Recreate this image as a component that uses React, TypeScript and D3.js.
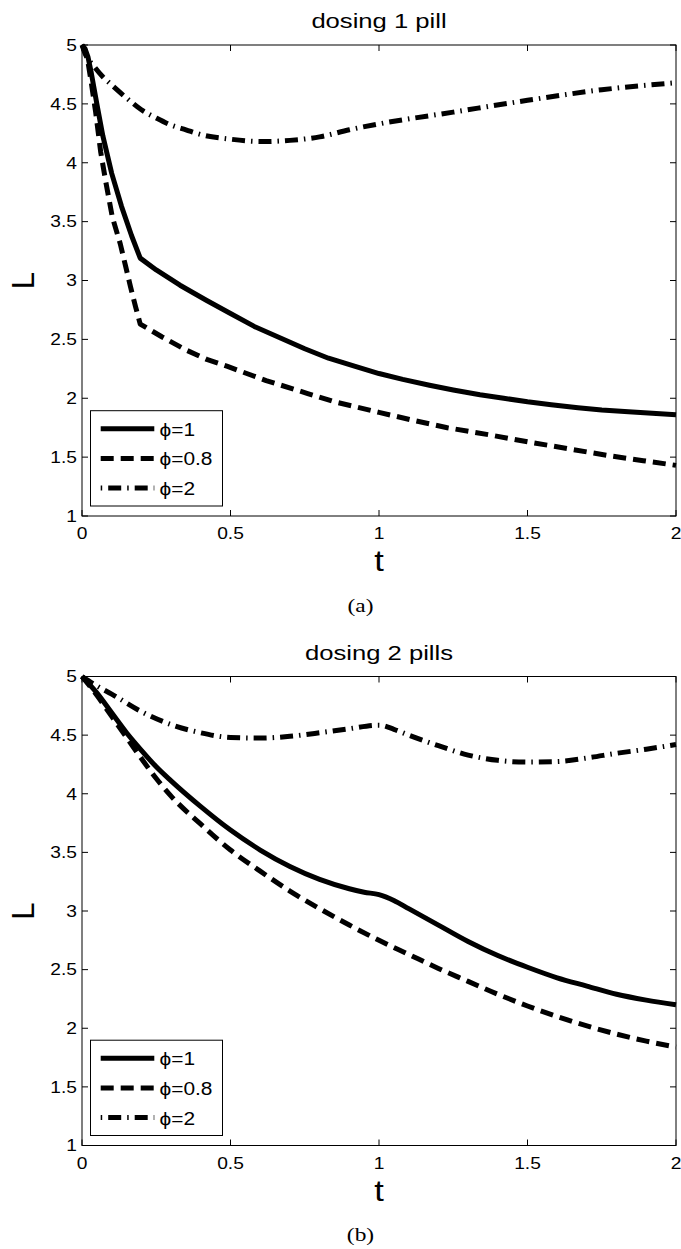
import React from 'react';
import * as d3 from 'd3';

const W = 681;
const H = 1249;

const xTicks = [0, 0.5, 1, 1.5, 2];
const yTicks = [1, 1.5, 2, 2.5, 3, 3.5, 4, 4.5, 5];
const legendLabels = ['ϕ=1', 'ϕ=0.8', 'ϕ=2'];

// (a) dosing 1 pill
const solid1T = [0, 0.01, 0.02, 0.03, 0.04, 0.05, 0.07, 0.1, 0.133, 0.167, 0.196, 0.25, 0.33, 0.42, 0.5, 0.58, 0.67, 0.75, 0.83, 0.92, 1.0, 1.08, 1.17, 1.25, 1.34, 1.42, 1.5, 1.58, 1.67, 1.75, 1.84, 1.92, 2.0];
const solid1L = [5, 4.97, 4.9, 4.78, 4.64, 4.5, 4.23, 3.91, 3.63, 3.38, 3.19, 3.09, 2.96, 2.83, 2.72, 2.61, 2.51, 2.42, 2.34, 2.27, 2.21, 2.16, 2.11, 2.07, 2.03, 2.0, 1.97, 1.945, 1.92, 1.9, 1.885, 1.872, 1.86];
const dashed1T = [0, 0.01, 0.02, 0.03, 0.046, 0.063, 0.08, 0.102, 0.129, 0.146, 0.163, 0.18, 0.196, 0.27, 0.35, 0.42, 0.49, 0.62, 0.76, 0.85, 1.0, 1.12, 1.23, 1.37, 1.5, 1.64, 1.78, 1.89, 2.0];
const dashed1L = [5, 4.96, 4.86, 4.7, 4.43, 4.09, 3.84, 3.54, 3.31, 3.13, 2.95, 2.78, 2.63, 2.52, 2.41, 2.33, 2.27, 2.15, 2.04, 1.97, 1.88, 1.81, 1.75, 1.69, 1.63, 1.57, 1.51, 1.47, 1.43];
const dashdot1T = [0, 0.01, 0.04, 0.07, 0.1, 0.15, 0.2, 0.25, 0.3, 0.35, 0.4, 0.5, 0.6, 0.7, 0.8, 0.9, 1.0, 1.25, 1.5, 1.75, 2.0];
const dashdot1L = [5, 4.93, 4.82, 4.73, 4.66, 4.55, 4.45, 4.38, 4.32, 4.28, 4.24, 4.2, 4.18, 4.19, 4.22, 4.28, 4.33, 4.43, 4.53, 4.62, 4.68];

// (b) dosing 2 pills
const solid2T = [0, 0.05, 0.1, 0.15, 0.2, 0.25, 0.3, 0.4, 0.5, 0.6, 0.7, 0.8, 0.9, 0.95, 1.0, 1.05, 1.1, 1.2, 1.3, 1.4, 1.5, 1.6, 1.7, 1.8, 1.9, 2.0];
const solid2L = [5, 4.86, 4.69, 4.52, 4.37, 4.23, 4.11, 3.89, 3.69, 3.52, 3.38, 3.27, 3.19, 3.16, 3.14, 3.09, 3.02, 2.88, 2.74, 2.62, 2.52, 2.43, 2.36, 2.29, 2.24, 2.2];
const dashed2T = [0, 0.05, 0.1, 0.15, 0.2, 0.25, 0.3, 0.4, 0.5, 0.6, 0.7, 0.8, 0.9, 1.0, 1.1, 1.2, 1.3, 1.4, 1.5, 1.6, 1.7, 1.8, 1.9, 2.0];
const dashed2L = [5, 4.84, 4.66, 4.48, 4.3, 4.13, 3.98, 3.74, 3.52, 3.34, 3.17, 3.02, 2.88, 2.75, 2.63, 2.51, 2.4, 2.29, 2.19, 2.1, 2.02, 1.95, 1.89, 1.84];
const dashdot2T = [0, 0.05, 0.1, 0.2, 0.3, 0.4, 0.5, 0.6, 0.7, 0.8, 0.9, 1.0, 1.05, 1.1, 1.2, 1.3, 1.4, 1.5, 1.6, 1.7, 1.8, 1.9, 2.0];
const dashdot2L = [5, 4.92, 4.85, 4.7, 4.59, 4.52, 4.48, 4.475, 4.49, 4.52, 4.555, 4.585, 4.55, 4.5, 4.41, 4.33, 4.285, 4.27, 4.275, 4.305, 4.345, 4.38, 4.42];

const dashes = [null, '13 7', '13 6 1.5 6'];
const legendOffsets = [null, 0, 19];
const FONT = '"Liberation Sans", Arial, Helvetica, sans-serif';
const LW = 5;

const panels = [
  {
    title: 'dosing 1 pill',
    caption: '(a)',
    top: 45,
    bottom: 516,
    // the one-pill curves have a real corner at t=0.2
    curves: [d3.curveLinear, d3.curveLinear, d3.curveMonotoneX],
    series: [[solid1T, solid1L], [dashed1T, dashed1L], [dashdot1T, dashdot1L]],
  },
  {
    title: 'dosing 2 pills',
    caption: '(b)',
    top: 676.5,
    bottom: 1145.5,
    curves: [d3.curveMonotoneX, d3.curveMonotoneX, d3.curveMonotoneX],
    series: [[solid2T, solid2L], [dashed2T, dashed2L], [dashdot2T, dashdot2L]],
  },
];

function SText({ x, y, sx = 1, size, anchor = 'middle', family = FONT, children }: any) {
  return (
    <text
      transform={`translate(${x},${y}) scale(${sx},1)`}
      textAnchor={anchor}
      fontFamily={family}
      fontSize={size}
      fill="#000"
    >
      {children}
    </text>
  );
}

function Panel({ p }: any) {
  const left = 82;
  const right = 676;
  const x = d3.scaleLinear().domain([0, 2]).range([left, right]);
  const y = d3.scaleLinear().domain([1, 5]).range([p.bottom, p.top]);
  const tick = 6;
  const cx = (left + right) / 2;
  const cy = (p.top + p.bottom) / 2;
  const lgX = 90.5;
  const lgY = p.bottom - 105.3;

  return (
    <g>
      <SText x={cx} y={p.top - 17} size={20.5} sx={1.25}>{p.title}</SText>

      {p.series.map((s: any, i: number) => {
        const line = d3
          .line<[number, number]>()
          .x((d) => x(d[0]))
          .y((d) => y(d[1]))
          .curve(p.curves[i]);
        return (
          <path
            key={i}
            d={line(s[0].map((t: number, k: number) => [t, s[1][k]])) || ''}
            fill="none"
            stroke="#000"
            strokeWidth={LW}
            strokeDasharray={dashes[i] || undefined}
            strokeLinecap="butt"
            strokeLinejoin="round"
          />
        );
      })}

      <rect x={left} y={p.top} width={right - left} height={p.bottom - p.top} fill="none" stroke="#000" strokeWidth={1} />
      {xTicks.map((t) => (
        <g key={'x' + t}>
          <line x1={x(t)} x2={x(t)} y1={p.bottom} y2={p.bottom - tick} stroke="#000" />
          <line x1={x(t)} x2={x(t)} y1={p.top} y2={p.top + tick} stroke="#000" />
          <SText x={x(t)} y={p.bottom + 23} size={16} sx={1.2}>{String(t)}</SText>
        </g>
      ))}
      {yTicks.map((v) => (
        <g key={'y' + v}>
          <line x1={left} x2={left + tick} y1={y(v)} y2={y(v)} stroke="#000" />
          <line x1={right} x2={right - tick} y1={y(v)} y2={y(v)} stroke="#000" />
          <SText x={77} y={y(v) + 5.8} size={16} sx={1.2} anchor="end">{String(v)}</SText>
        </g>
      ))}

      <SText x={cx} y={p.bottom + 55} size={30} sx={1.15}>t</SText>
      <text
        transform={`translate(34,${cy}) rotate(-90)`}
        textAnchor="middle"
        fontFamily={FONT}
        fontSize={31}
      >
        L
      </text>

      <rect x={lgX} y={lgY} width={132} height={95.3} fill="#fff" stroke="#000" strokeWidth={1} />
      {legendLabels.map((lab, i) => {
        const ry = lgY + 18 + i * 29.7;
        return (
          <g key={lab}>
            <line
              x1={100.7}
              x2={154.3}
              y1={ry}
              y2={ry}
              stroke="#000"
              strokeWidth={LW}
              strokeDasharray={dashes[i] || undefined}
              strokeDashoffset={legendOffsets[i] || 0}
            />
            <SText x={159.5} y={ry + 7} size={19} sx={1.1} anchor="start">{lab}</SText>
          </g>
        );
      })}

      <SText x={360.5} y={p.bottom + 95.5} size={19.5} sx={1.2} family='"Liberation Serif", "DejaVu Serif", serif'>
        {p.caption}
      </SText>
    </g>
  );
}

export default function App() {
  return (
    <svg
      width={W}
      height={H}
      viewBox={`0 0 ${W} ${H}`}
      style={{ position: 'absolute', left: 0, top: 0, background: '#fff' }}
    >
      <rect width={W} height={H} fill="#fff" />
      {panels.map((p) => (
        <Panel key={p.title} p={p} />
      ))}
    </svg>
  );
}
